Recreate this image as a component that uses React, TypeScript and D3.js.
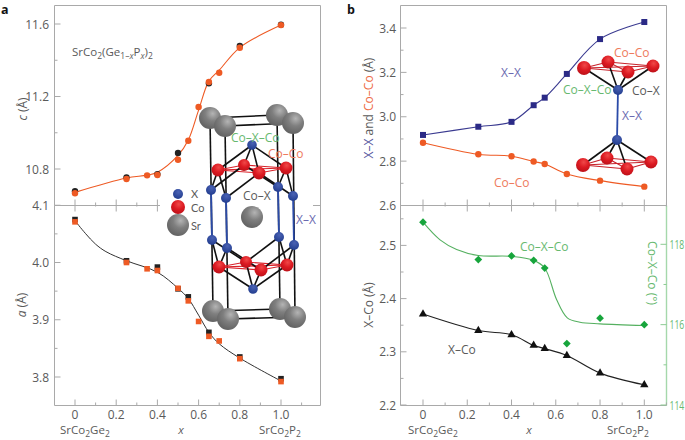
import React from "react";
import * as d3 from "d3";

// ---------- data ----------
const cOrangeX = [0, 0.25, 0.35, 0.4, 0.5, 0.55, 0.6, 0.65, 0.7, 0.8, 1.0];
const cOrange = [10.666, 10.745, 10.765, 10.767, 10.851, 10.956, 11.142, 11.28, 11.331, 11.469, 11.594];
const cBlackX = [0, 0.25, 0.4, 0.5, 0.65, 0.8, 1.0];
const cBlack = [10.677, 10.754, 10.772, 10.888, 11.273, 11.479, 11.596];
const cCurve = [10.671, 10.75, 10.766, 10.782, 10.875, 10.96, 11.125, 11.285, 11.345, 11.47, 11.594];

const aOrangeX = cOrangeX;
const aOrange = [4.071, 4.0, 3.989, 3.986, 3.955, 3.933, 3.897, 3.871, 3.863, 3.832, 3.792];
const aBlackX = [0, 0.25, 0.4, 0.5, 0.55, 0.65, 0.8, 1.0];
const aBlack = [4.075, 4.003, 3.992, 3.954, 3.94, 3.878, 3.835, 3.797];
const aCurveX = [0, 0.05, 0.1, 0.15, 0.25, 0.4, 0.5, 0.55, 0.6, 0.65, 0.7, 0.8, 1.0];
const aCurve = [4.073, 4.051, 4.032, 4.019, 4.003, 3.983, 3.955, 3.937, 3.908, 3.878, 3.858, 3.833, 3.793];

const bX = [0, 0.25, 0.4, 0.5, 0.55, 0.65, 0.8, 1.0];
const xxDist = [2.918, 2.955, 2.977, 3.052, 3.086, 3.193, 3.35, 3.427];
const coCoDist = [2.883, 2.831, 2.822, 2.798, 2.787, 2.742, 2.712, 2.685];
const xCoDist = [2.371, 2.34, 2.332, 2.312, 2.306, 2.293, 2.26, 2.238];
const angle = [118.55, 117.62, 117.71, 117.6, 117.41, 115.53, 116.16, 116.0];
const angleCurveX = [0, 0.077, 0.152, 0.25, 0.4, 0.5, 0.55, 0.604, 0.652, 0.709, 0.8, 1.0];
const angleCurve = [118.55, 118.11, 117.87, 117.72, 117.7, 117.6, 117.41, 116.62, 116.17, 116.06, 116.02, 115.98];

const xTicks = [0, 0.2, 0.4, 0.6, 0.8, 1.0];
const xMinor = [0.1, 0.3, 0.5, 0.7, 0.9, 1.1];

// crystal illustration atoms, [x, y, r] in page pixels
const srA: number[][] = [[210, 118, 11], [225, 126, 11], [277, 115, 11], [293, 123, 11]];
const srB: number[][] = [[213, 311, 11], [228, 319, 11], [280, 309, 11], [295, 317, 11]];
const srMid: number[] = [252, 217, 11];
const coA: number[][] = [[218, 170, 6.5], [244, 165, 6], [259, 173, 6.5], [286, 168, 6.5]];
const coB: number[][] = [[219, 267, 6.5], [246, 262, 6], [261, 270, 6.5], [287, 265, 6.5]];
const xA: number[][] = [[211, 190, 5], [226, 198, 5], [278, 187, 5], [293, 196, 5]];
const xB: number[][] = [[212, 240, 5], [227, 248, 5], [279, 237, 5], [294, 245, 5]];
const xTop: number[] = [252, 145, 4.8];
const xBot: number[] = [253, 289, 4.8];
const coR1: number[][] = [[584, 68, 7], [608, 62, 6.5], [628, 72, 6.5], [653, 66, 6.5]];
const coR2: number[][] = [[583, 165, 7], [607, 158, 6.5], [627, 169, 6.5], [651, 162, 6.5]];
const xR1: number[] = [618, 90, 5];
const xR2: number[] = [617, 140, 5];

// ---------- scales ----------
const xL = d3.scaleLinear().domain([0, 1]).range([75, 281]);
const xR = d3.scaleLinear().domain([0, 1]).range([423, 644.3]);
const yC = d3.scaleLinear().domain([10.8, 11.6]).range([169, 24]);
const yA = d3.scaleLinear().domain([3.8, 4.0]).range([377, 262.5]);
const yTop = d3.scaleLinear().domain([2.6, 3.4]).range([205.5, 28]);
const yLow = d3.scaleLinear().domain([2.2, 2.5]).range([405, 245.4]);
const yAng = d3.scaleLinear().domain([114, 118]).range([405, 244.3]);

const GRAY = "#a9a9a9";
const TXT = "#5a5a5a";
const ORANGE = "#ee5a24";
const FONT = "'Open Sans', sans-serif";
const BLUE = "#2b2a86";
const GREEN = "#17a53c";
const LGREEN = "#67b96f";

const curve = d3.curveCatmullRom.alpha(0.5);
function path(xs: number[], ys: number[], sx: any, sy: any) {
  return d3
    .line<number>()
    .x((d) => sx(d))
    .y((_, i) => sy(ys[i]))
    .curve(curve)(xs) as string;
}

const Tx = ({ x, y, c = TXT, a = "end", s = 12, children, ...r }: any) => (
  <text x={x} y={y} fill={c} textAnchor={a} fontSize={s} fontFamily={FONT} {...r}>
    {children}
  </text>
);

const Sub = ({ children }: any) => (
  <tspan baselineShift="-3" fontSize="8.5">{children}</tspan>
);

function YTicks({ x, major, minor, sy, fmt, dir = 1, color = GRAY, txt = TXT, labelX, anchor = "end", squeeze }: any) {
  return (
    <g>
      {minor.map((v: number) => (
        <line key={"m" + v} x1={x} x2={x + dir * 3} y1={sy(v)} y2={sy(v)} stroke={color} />
      ))}
      {major.map((v: number) => (
        <g key={v}>
          <line x1={x} x2={x + dir * 6} y1={sy(v)} y2={sy(v)} stroke={color} />
          {squeeze ? (
            <Tx x={0} y={0} c={txt} a={anchor} transform={`translate(${labelX},${sy(v) + 4.5}) scale(${squeeze},1)`}>
              {fmt(v)}
            </Tx>
          ) : (
            <Tx x={labelX} y={sy(v) + 4.5} c={txt} a={anchor}>
              {fmt(v)}
            </Tx>
          )}
        </g>
      ))}
    </g>
  );
}

function XTicks({ sx, y, both = false, labels = false, maj = xTicks, min = xMinor }: any) {
  return (
    <g stroke={GRAY}>
      {min.map((v: number) => (
        <line key={"m" + v} x1={sx(v)} x2={sx(v)} y1={y - 3} y2={both ? y + 1 : y} />
      ))}
      {maj.map((v: number) => (
        <line key={v} x1={sx(v)} x2={sx(v)} y1={y - 6} y2={both ? y + 6 : y} />
      ))}
      {labels &&
        maj.map((v: number) => (
          <text key={"t" + v} x={sx(v)} y={y + 13.5} stroke="none" fill={TXT} textAnchor="middle" fontSize={12} fontFamily={FONT}>
            {v === 0 ? "0" : v.toFixed(1)}
          </text>
        ))}
    </g>
  );
}

const Defs = () => (
  <defs>
    <radialGradient id="gSr" cx="62%" cy="30%" r="75%">
      <stop offset="0%" stopColor="#b4b4b4" />
      <stop offset="45%" stopColor="#7f7f7f" />
      <stop offset="100%" stopColor="#606060" />
    </radialGradient>
    <radialGradient id="gCo" cx="55%" cy="30%" r="75%">
      <stop offset="0%" stopColor="#f04848" />
      <stop offset="50%" stopColor="#dc1a22" />
      <stop offset="100%" stopColor="#b81018" />
    </radialGradient>
    <radialGradient id="gX" cx="55%" cy="30%" r="75%">
      <stop offset="0%" stopColor="#4a62b4" />
      <stop offset="100%" stopColor="#1f3a8c" />
    </radialGradient>
  </defs>
);

const Atom = ({ p, g }: any) => <circle cx={p[0]} cy={p[1]} r={p[2]} fill={`url(#${g})`} />;

const Bond = ({ a, b, c = "#111", w = 1.6 }: any) => (
  <line x1={a[0]} y1={a[1]} x2={b[0]} y2={b[1]} stroke={c} strokeWidth={w} />
);

const ring = [[0, 1], [1, 3], [3, 2], [2, 0], [0, 3], [1, 2]];
const square = [[0, 1], [1, 3], [3, 2], [2, 0]];
const coToX = [[0, 0], [0, 1], [1, 0], [1, 2], [2, 1], [2, 3], [3, 2], [3, 3]];

function Crystal() {
  return (
    <g>
      {srA.map((p, i) => <Bond key={"v" + i} a={p} b={srB[i]} />)}
      {square.map(([i, j]) => <Bond key={"ta" + i + j} a={srA[i]} b={srA[j]} />)}
      {square.map(([i, j]) => <Bond key={"tb" + i + j} a={srB[i]} b={srB[j]} />)}
      {xA.map((p, i) => <Bond key={"xx" + i} a={p} b={xB[i]} c="#2a4aa8" w={1.8} />)}
      {ring.map(([i, j]) => <Bond key={"ra" + i + j} a={coA[i]} b={coA[j]} c="#d8222a" w={1.1} />)}
      {ring.map(([i, j]) => <Bond key={"rb" + i + j} a={coB[i]} b={coB[j]} c="#d8222a" w={1.1} />)}
      {coA.map((p, i) => <Bond key={"t" + i} a={xTop} b={p} />)}
      {coB.map((p, i) => <Bond key={"b" + i} a={xBot} b={p} />)}
      {coToX.map(([c, x]) => <Bond key={"ca" + c + x} a={coA[c]} b={xA[x]} />)}
      {coToX.map(([c, x]) => <Bond key={"cb" + c + x} a={coB[c]} b={xB[x]} />)}
      {[...xA, ...xB, xTop, xBot].map((p, i) => <Atom key={"x" + i} p={p} g="gX" />)}
      {[...coA, ...coB].map((p, i) => <Atom key={"c" + i} p={p} g="gCo" />)}
      {[...srA, ...srB, srMid].map((p, i) => <Atom key={"s" + i} p={p} g="gSr" />)}
      <Atom p={[178, 194, 5]} g="gX" />
      <Atom p={[178, 207, 7]} g="gCo" />
      <Atom p={[178, 225, 11]} g="gSr" />
      <Tx x={191} y={197.5} a="start" s={11} fontFamily="Lato, sans-serif">X</Tx>
      <Tx x={191} y={211.5} a="start" s={11} fontFamily="Lato, sans-serif">Co</Tx>
      <Tx x={191} y={230} a="start" s={11} fontFamily="Lato, sans-serif">Sr</Tx>
      <Tx x={231} y={142} a="start" c={LGREEN}>Co–X–Co</Tx>
      <Tx x={268} y={158} a="start" c="#ee7a5c">Co–Co</Tx>
      <Tx x={243} y={200} a="start">Co–X</Tx>
      <Tx x={296} y={224} a="start" c="#6a6ab0">X–X</Tx>
    </g>
  );
}

function Cluster() {
  return (
    <g>
      <Bond a={xR1} b={xR2} c="#2a4aa8" w={1.8} />
      {ring.map(([i, j]) => <Bond key={"r1" + i + j} a={coR1[i]} b={coR1[j]} c="#c8222a" w={1.2} />)}
      {ring.map(([i, j]) => <Bond key={"r2" + i + j} a={coR2[i]} b={coR2[j]} c="#c8222a" w={1.2} />)}
      {coR1.map((p, i) => <Bond key={"a" + i} a={xR1} b={p} />)}
      {coR2.map((p, i) => <Bond key={"b" + i} a={xR2} b={p} />)}
      {[...coR1, ...coR2].map((p, i) => <Atom key={"c" + i} p={p} g="gCo" />)}
      <Atom p={xR1} g="gX" />
      <Atom p={xR2} g="gX" />
      <Tx x={614} y={57} a="start" c="#ee7a5c">Co–Co</Tx>
      <Tx x={563} y={94} a="start" c={LGREEN}>Co–X–Co</Tx>
      <Tx x={632} y={95} a="start">Co–X</Tx>
      <Tx x={622} y={120} a="start" c="#6a6ab0">X–X</Tx>
    </g>
  );
}

const Square = ({ cx, cy, s, fill }: any) => <rect x={cx - s / 2} y={cy - s / 2} width={s} height={s} fill={fill} />;

export default function App() {
  const f1 = (v: number) => v.toFixed(1);
  return (
    <svg width={685} height={440} style={{ position: "absolute", left: 0, top: 0, background: "#fff" }}>
      <Defs />
      <text x={1} y={14} fontSize={12.5} fontWeight={700} fontFamily={FONT} fill="#111">a</text>
      <text x={347} y={14} fontSize={12.5} fontWeight={700} fontFamily={FONT} fill="#111">b</text>

      {/* Panel a frame */}
      <path d="M54.5,205.5V5.5H320.5V405.5H54.5V205.5" fill="none" stroke={GRAY} />
      <line x1={54.5} x2={160} y1={205.5} y2={205.5} stroke={GRAY} />
      <line x1={313} x2={320} y1={205.5} y2={205.5} stroke={GRAY} />
      <XTicks sx={xL} y={205.5} both maj={[0, 0.2, 0.4]} min={[0.1, 0.3]} />
      <XTicks sx={xL} y={405.5} labels />
      <YTicks x={54.5} major={[10.8, 11.2, 11.6]} minor={[11.0, 11.4]} sy={yC} fmt={f1} labelX={49} />
      <YTicks x={54.5} major={[3.8, 3.9, 4.0, 4.1]} minor={[3.85, 3.95, 4.05]} sy={yA} fmt={f1} labelX={49} />
      <text transform="translate(27,109) rotate(-90)" textAnchor="middle" fontSize={12} fontFamily={FONT} fill={TXT}>
        <tspan fontStyle="italic">c</tspan> (Å)
      </text>
      <text transform="translate(26,305) rotate(-90)" textAnchor="middle" fontSize={12} fontFamily={FONT} fill={TXT}>
        <tspan fontStyle="italic">a</tspan> (Å)
      </text>
      <text x={72} y={56} fontSize={11.5} fontFamily={FONT} fill={TXT}>
        SrCo<Sub>2</Sub>(Ge<Sub>1–<tspan fontStyle="italic">x</tspan></Sub>P<Sub><tspan fontStyle="italic">x</tspan></Sub>)<Sub>2</Sub>
      </text>
      <text x={60} y={434} fontSize={11.5} fontFamily={FONT} fill={TXT}>SrCo<Sub>2</Sub>Ge<Sub>2</Sub></text>
      <text x={181} y={434} fontSize={11.5} fontStyle="italic" fontFamily={FONT} fill={TXT} textAnchor="middle">x</text>
      <text x={259} y={434} fontSize={11.5} fontFamily={FONT} fill={TXT}>SrCo<Sub>2</Sub>P<Sub>2</Sub></text>

      {/* Panel a data */}
      <path d={path(cOrangeX, cCurve, xL, yC)} fill="none" stroke={ORANGE} strokeWidth={1.1} />
      {cBlackX.map((x, i) => <circle key={i} cx={xL(x)} cy={yC(cBlack[i])} r={3.2} fill="#222" />)}
      {cOrangeX.map((x, i) => <circle key={i} cx={xL(x)} cy={yC(cOrange[i])} r={3.2} fill={ORANGE} />)}
      <path d={path(aCurveX, aCurve, xL, yA)} fill="none" stroke="#333" strokeWidth={1} />
      {aBlackX.map((x, i) => <Square key={i} cx={xL(x)} cy={yA(aBlack[i])} s={5.6} fill="#222" />)}
      {aOrangeX.map((x, i) => <Square key={i} cx={xL(x)} cy={yA(aOrange[i])} s={5.6} fill={ORANGE} />)}
      <Crystal />

      {/* Panel b frame */}
      <path d="M400.5,405.5V5.5H666.5V205.5" fill="none" stroke={GRAY} />
      <line x1={400.5} x2={666.5} y1={405.5} y2={405.5} stroke={GRAY} />
      <line x1={400.5} x2={666.5} y1={205.5} y2={205.5} stroke={GRAY} />
      <line x1={666.5} x2={666.5} y1={205.5} y2={405.5} stroke="#a5d8ab" strokeWidth={1.4} />
      <XTicks sx={xR} y={205.5} both />
      <XTicks sx={xR} y={405.5} labels />
      <YTicks x={400.5} major={[2.6, 2.8, 3.0, 3.2, 3.4]} minor={[2.7, 2.9, 3.1, 3.3]} sy={yTop} fmt={f1} labelX={396} />
      <YTicks x={400.5} major={[2.2, 2.3, 2.4, 2.5]} minor={[2.25, 2.35, 2.45, 2.55]} sy={yLow} fmt={f1} labelX={396} />
      <YTicks x={666.5} dir={-1} color="#8ccb93" major={[114, 116, 118]} minor={[115, 117]} sy={yAng} fmt={(v: number) => String(v)} txt={LGREEN} labelX={669.5} anchor="start" squeeze={0.72} />
      <text transform="translate(373,108) rotate(-90)" textAnchor="middle" fontSize={12} fontFamily={FONT}>
        <tspan fill="#55559e">X–X</tspan><tspan fill={TXT}> and </tspan><tspan fill="#ee6a44">Co–Co</tspan><tspan fill={TXT}> (Å)</tspan>
      </text>
      <text transform="translate(373,305) rotate(-90)" textAnchor="middle" fontSize={12} fontFamily={FONT} fill={TXT}>X–Co (Å)</text>
      <text transform="translate(648,273) rotate(90)" textAnchor="middle" fontSize={12} fontFamily={FONT} fill={LGREEN}>Co–X–Co (°)</text>
      <text x={408} y={434} fontSize={11.5} fontFamily={FONT} fill={TXT}>SrCo<Sub>2</Sub>Ge<Sub>2</Sub></text>
      <text x={529} y={434} fontSize={11.5} fontStyle="italic" fontFamily={FONT} fill={TXT} textAnchor="middle">x</text>
      <text x={607} y={434} fontSize={11.5} fontFamily={FONT} fill={TXT}>SrCo<Sub>2</Sub>P<Sub>2</Sub></text>

      {/* Panel b data */}
      <path d={path(bX, xxDist, xR, yTop)} fill="none" stroke="#3a3a90" strokeWidth={1.1} />
      {bX.map((x, i) => <Square key={i} cx={xR(x)} cy={yTop(xxDist[i])} s={6} fill={BLUE} />)}
      <path d={path(bX, coCoDist, xR, yTop)} fill="none" stroke={ORANGE} strokeWidth={1.1} />
      {bX.map((x, i) => <circle key={i} cx={xR(x)} cy={yTop(coCoDist[i])} r={3.2} fill={ORANGE} />)}
      <path d={path(bX, xCoDist, xR, yLow)} fill="none" stroke="#222" strokeWidth={1.2} />
      {bX.map((x, i) => (
        <path key={i} d={d3.symbol(d3.symbolTriangle, 30)() as string} transform={`translate(${xR(x)},${yLow(xCoDist[i])})`} fill="#111" />
      ))}
      <path d={path(angleCurveX, angleCurve, xR, yAng)} fill="none" stroke="#55b060" strokeWidth={1.1} />
      {bX.map((x, i) => (
        <path key={i} d={d3.symbol(d3.symbolSquare, 30)() as string} transform={`translate(${xR(x)},${yAng(angle[i])}) rotate(45)`} fill={GREEN} />
      ))}
      <Tx x={501} y={77} a="start" c="#6a6ab0">X–X</Tx>
      <Tx x={494} y={187} a="start" c="#ee7a5c">Co–Co</Tx>
      <Tx x={520} y={251} a="start" c={LGREEN}>Co–X–Co</Tx>
      <Tx x={448} y={354} a="start">X–Co</Tx>
      <Cluster />
    </svg>
  );
}
